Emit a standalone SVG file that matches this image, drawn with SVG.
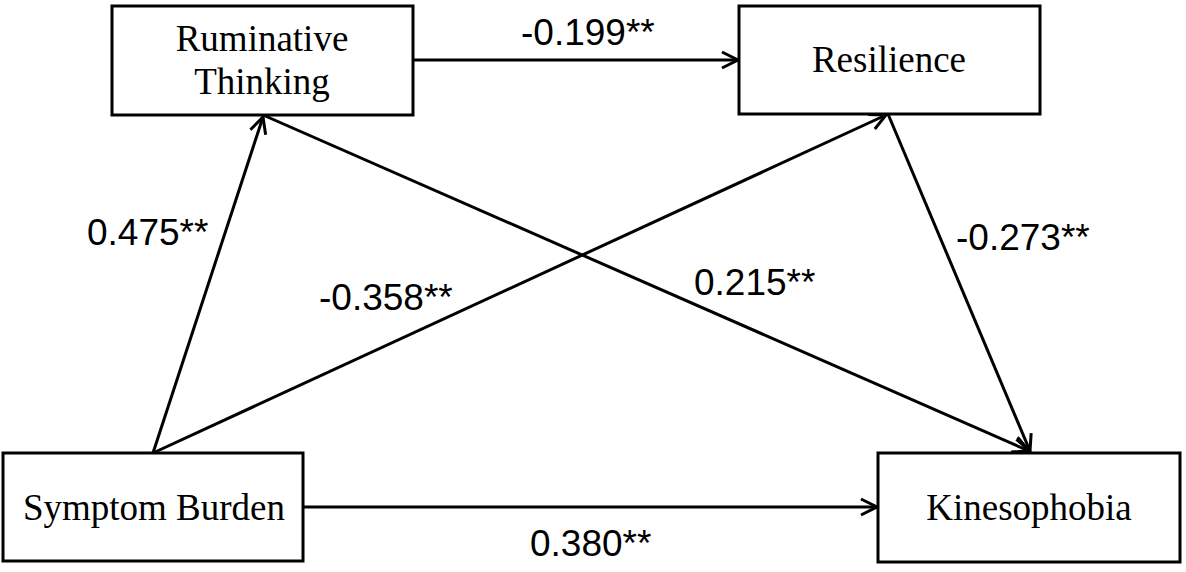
<svg xmlns="http://www.w3.org/2000/svg" width="1186" height="572" viewBox="0 0 1186 572">
<style>
.box{fill:#fff;stroke:#000;stroke-width:3}
.nt{font-family:"Liberation Serif","Times New Roman",serif;font-size:37px;fill:#000;text-anchor:middle}
.lb{font-family:"Liberation Sans",Arial,sans-serif;font-size:37px;fill:#000}
.cn{stroke:#000;stroke-width:3;fill:none;marker-end:url(#ah)}
</style>
<defs>
<marker id="ah" markerUnits="userSpaceOnUse" markerWidth="24" markerHeight="24" refX="18" refY="9" orient="auto" viewBox="0 0 24 18">
<path d="M2,1 L18,9 L2,17" fill="none" stroke="#000" stroke-width="3"/>
</marker>
</defs>
<rect width="1186" height="572" fill="#fff"/>
<g id="connectors">
<line class="cn" x1="413" y1="60" x2="738" y2="60"/>
<line class="cn" x1="153" y1="453" x2="263" y2="117"/>
<line class="cn" x1="263" y1="115" x2="1029" y2="451"/>
<line class="cn" x1="153" y1="453" x2="886" y2="115"/>
<line class="cn" x1="888" y1="114" x2="1030" y2="451"/>
<line class="cn" x1="303" y1="507" x2="877" y2="507"/>
</g>
<g id="labels">
<text class="lb" x="521" y="45">-0.199**</text>
<text class="lb" x="87" y="245">0.475**</text>
<text class="lb" x="319" y="310">-0.358**</text>
<text class="lb" x="694" y="295">0.215**</text>
<text class="lb" x="956" y="250">-0.273**</text>
<text class="lb" x="530" y="556">0.380**</text>
</g>
<g id="node-ruminative">
<rect class="box" x="112" y="6" width="301" height="109"/>
<text class="nt" x="262" y="51">Ruminative</text>
<text class="nt" x="262" y="94">Thinking</text>
</g>
<g id="node-resilience">
<rect class="box" x="739" y="6" width="301" height="108"/>
<text class="nt" x="889" y="72">Resilience</text>
</g>
<g id="node-symptom">
<rect class="box" x="3" y="453" width="300" height="108"/>
<text class="nt" x="154" y="520">Symptom Burden</text>
</g>
<g id="node-kinesophobia">
<rect class="box" x="878" y="453" width="302" height="109"/>
<text class="nt" x="1029" y="520">Kinesophobia</text>
</g>
</svg>
